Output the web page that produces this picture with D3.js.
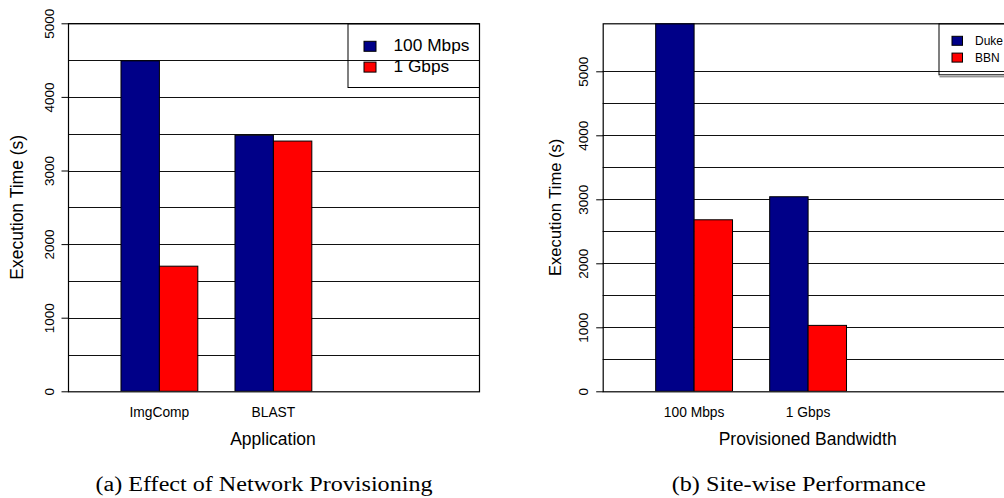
<!DOCTYPE html>
<html>
<head>
<meta charset="utf-8">
<script src="https://cdn.jsdelivr.net/npm/d3@7"></script>
<style>
  html, body { margin: 0; padding: 0; background: #fff; }
  svg { display: block; }
  text { font-family: "Liberation Sans", Arial, sans-serif; fill: #000; }
  .caption { font-family: "Liberation Serif", "DejaVu Serif", serif; }
</style>
</head>
<body>
<svg id="fig" width="1004" height="498"></svg>
<script>
// ---- data: (a) effect of network provisioning ----
const apps = ["ImgComp", "BLAST"];
const linkSpeeds = ["100 Mbps", "1 Gbps"];
const time100Mbps = [4490, 3480];
const time1Gbps = [1700, 3400];

// ---- data: (b) site-wise performance ----
const bandwidths = ["100 Mbps", "1 Gbps"];
const sites = ["Duke", "BBN"];
const dukeTimes = [5900, 3040];
const bbnTimes = [2680, 1030];

const tickValuesA = [0, 1000, 2000, 3000, 4000, 5000];
const tickValuesB = [0, 1000, 2000, 3000, 4000, 5000];

const colors = ["#000088", "#ff0000"];

const svg = d3.select("#fig");

function drawPanel(opt) {
  const { left, right, top, bottom, yMax, cats, series, values, ticks,
          xTitle, yTitle, caption, captionX, captionW, legend } = opt;
  const g = svg.append("g");

  const y = d3.scaleLinear().domain([0, yMax]).range([bottom, top]);

  // outer bands for categories, inner bands for series
  const x = d3.scaleBand()
    .domain(cats)
    .range([left + 34.4, left + 34.4 + 228])
    .paddingInner(0.326)
    .paddingOuter(0.163);
  const xs = d3.scaleBand().domain(series).range([0, x.bandwidth()]);

  const clipId = "clip-" + opt.id;
  svg.append("clipPath").attr("id", clipId)
    .append("rect").attr("x", left).attr("y", top)
    .attr("width", right - left).attr("height", bottom - top);

  // horizontal grid lines every 500 up to 5000
  const gridVals = d3.range(500, Math.min(yMax, 5000) + 1e-6, 500);
  g.append("g").selectAll("line").data(gridVals).join("line")
    .attr("x1", left).attr("x2", right)
    .attr("y1", d => Math.round(y(d)) + 0.5).attr("y2", d => Math.round(y(d)) + 0.5)
    .attr("stroke", "#111").attr("stroke-width", 1);

  // bars
  const rows = cats.map((c, i) => series.map((s, j) => ({ c, s, v: values[j][i], j })));
  g.append("g").attr("clip-path", `url(#${clipId})`)
    .selectAll("g").data(rows).join("g")
    .attr("transform", d => `translate(${x(d[0].c)},0)`)
    .selectAll("rect").data(d => d).join("rect")
    .attr("x", d => xs(d.s))
    .attr("y", d => y(d.v))
    .attr("width", xs.bandwidth())
    .attr("height", d => y(0) - y(d.v))
    .attr("fill", d => colors[d.j])
    .attr("stroke", "#000").attr("stroke-width", 1);

  // plot frame
  g.append("rect")
    .attr("x", left + 0.5).attr("y", top + 0.5)
    .attr("width", right - left).attr("height", bottom - top)
    .attr("fill", "none").attr("stroke", "#000").attr("stroke-width", 1.2);

  // y axis with rotated labels
  const yAxis = d3.axisLeft(y).tickValues(ticks).tickSize(7).tickPadding(8)
    .tickFormat(d3.format("d"));
  const ya = g.append("g").attr("transform", `translate(${left + 0.5},0)`).call(yAxis);
  ya.select(".domain").remove();
  ya.selectAll(".tick line").attr("stroke", "#000");
  ya.selectAll(".tick text")
    .attr("font-size", 13.5)
    .attr("font-family", "Liberation Sans, Arial, sans-serif")
    .attr("transform", "rotate(-90)")
    .attr("x", 0).attr("y", -15).attr("dy", null)
    .attr("text-anchor", "middle");

  // x category labels
  g.append("g").selectAll("text").data(cats).join("text")
    .attr("x", d => x(d) + x.bandwidth() / 2)
    .attr("y", 416.5)
    .attr("text-anchor", "middle")
    .attr("font-size", 13.8)
    .text(d => d);

  // axis titles
  g.append("text")
    .attr("x", (left + right) / 2 - 0.5)
    .attr("y", 445)
    .attr("text-anchor", "middle")
    .attr("font-size", 17.5)
    .text(xTitle);
  g.append("text")
    .attr("transform", `translate(${opt.yTitleX},${(top + bottom) / 2}) rotate(-90)`)
    .attr("text-anchor", "middle")
    .attr("font-size", opt.yTitleSize)
    .text(yTitle);

  // legend (no fill: grid lines show through)
  const L = legend;
  g.append("rect")
    .attr("x", L.x + 0.5).attr("y", top + 0.5)
    .attr("width", right - L.x).attr("height", L.h)
    .attr("fill", "none").attr("stroke", "#000").attr("stroke-width", 1);
  if (L.shadow) {
    g.append("line")
      .attr("x1", L.x + 1).attr("x2", right)
      .attr("y1", top + L.h + 2.5).attr("y2", top + L.h + 2.5)
      .attr("stroke", "#666").attr("stroke-width", 1);
  }
  const items = g.append("g").selectAll("g").data(series).join("g");
  items.append("rect")
    .attr("x", L.x + L.sqDx + 0.5)
    .attr("y", (d, i) => top + L.sqDy + i * L.step + 0.5)
    .attr("width", L.sqW).attr("height", L.sqH)
    .attr("fill", (d, i) => colors[i])
    .attr("stroke", "#000").attr("stroke-width", 1);
  items.append("text")
    .attr("x", L.x + L.txDx)
    .attr("y", (d, i) => top + L.txDy + i * L.step)
    .attr("font-size", L.fs)
    .text(d => d);

  // caption
  svg.append("text")
    .attr("class", "caption")
    .attr("x", captionX).attr("y", 491)
    .attr("text-anchor", "middle")
    .attr("font-size", 20)
    .attr("textLength", captionW)
    .attr("lengthAdjust", "spacingAndGlyphs")
    .text(caption);
}

drawPanel({
  id: "a", left: 68, right: 479, top: 23.3, bottom: 391.3, yMax: 5000,
  cats: apps, series: linkSpeeds, values: [time100Mbps, time1Gbps],
  ticks: tickValuesA,
  xTitle: "Application", yTitle: "Execution Time (s)", yTitleX: 23, yTitleSize: 17.5,
  caption: "(a) Effect of Network Provisioning", captionX: 264, captionW: 337,
  legend: { x: 347.5, h: 63.7, sqDx: 16, sqDy: 17.5, sqW: 12, sqH: 10, step: 20.8,
            txDx: 46, txDy: 28, fs: 17.3, shadow: false }
});

drawPanel({
  id: "b", left: 602.7, right: 1013.7, top: 23.3, bottom: 391.3, yMax: 5750,
  cats: bandwidths, series: sites, values: [dukeTimes, bbnTimes],
  ticks: tickValuesB,
  xTitle: "Provisioned Bandwidth", yTitle: "Execution Time (s)", yTitleX: 561, yTitleSize: 16.6,
  caption: "(b) Site-wise Performance", captionX: 798.7, captionW: 254,
  legend: { x: 938.5, h: 51, sqDx: 13, sqDy: 12.5, sqW: 10.5, sqH: 9, step: 16.8,
            txDx: 36.5, txDy: 22, fs: 12, shadow: true }
});
</script>
</body>
</html>
